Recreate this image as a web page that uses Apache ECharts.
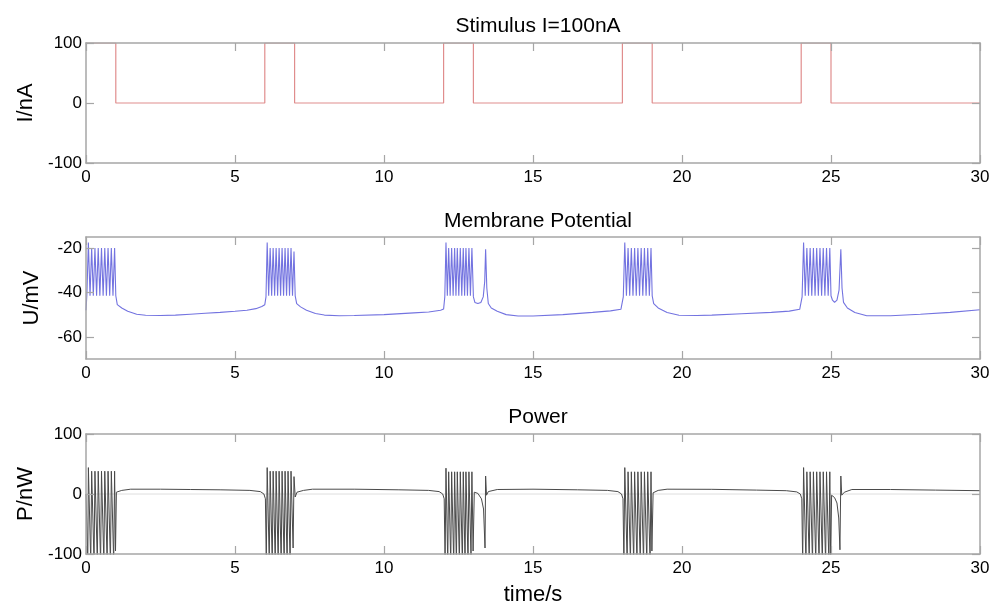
<!DOCTYPE html>
<html><head><meta charset="utf-8">
<script src="https://cdn.jsdelivr.net/npm/echarts@6/dist/echarts.min.js"></script>
<style>html,body{margin:0;padding:0;background:#fff}#c{width:1003px;height:608px}</style>
</head><body><div id="c"></div>
<script>
// ---------------- data ----------------
const titles = ['Stimulus I=100nA', 'Membrane Potential', 'Power'];
const yNames = ['I/nA', 'U/mV', 'P/nW'];
const xName = 'time/s';
const xRange = [0, 30];
const xStep = 5;
const yRangeStim = [-100, 100];
const yRangeU = [-70, -15];
const yRangeP = [-100, 100];
const yTicksStim = [-100, 0, 100];
const yTicksU = [-60, -40, -20];
const yTicksP = [-100, 0, 100];

// stimulus current (nA): [t, I]
const stimulus = [
  [0,100],[1,100],[1,0],[6,0],[6,100],[7,100],[7,0],[12,0],[12,100],[13,100],[13,0],
  [18,0],[18,100],[19,100],[19,0],[24,0],[24,100],[25,100],[25,0],[30,0]
];

// membrane potential (mV): [t, U]
const membrane = [
  [0,-48],[0.03,-41],[0.08,-17.5],[0.135,-41.5],[0.19,-20],[0.245,-41.5],[0.30,-20],[0.355,-41.5],[0.41,-20],
  [0.465,-41.5],[0.52,-20],[0.575,-41.5],[0.63,-20],[0.685,-41.5],[0.74,-20],[0.795,-41.5],[0.85,-20],
  [0.905,-41.5],[0.96,-20],[1.00,-41.5],[1.05,-45.5],[1.2,-47],[1.4,-48.5],[1.7,-49.8],[2.0,-50.3],
  [2.5,-50.4],[3.0,-50.2],[3.5,-49.8],[4.0,-49.4],[4.5,-49],[5.0,-48.5],[5.4,-48],[5.7,-47.3],[5.9,-46.3],
  [6.0,-45.5],[6.04,-42],
  [6.08,-17.5],[6.13,-41.5],[6.18,-20],[6.23,-41.5],[6.28,-20],[6.33,-41.5],[6.38,-20],[6.43,-41.5],[6.48,-20],
  [6.53,-41.5],[6.58,-20],[6.63,-41.5],[6.68,-20],[6.73,-41.5],[6.78,-20],[6.83,-41.5],[6.88,-20],[6.93,-41.5],
  [6.98,-21.5],[7.02,-41.5],[7.07,-45],[7.2,-46.5],[7.4,-48],[7.7,-49.5],[8.0,-50.2],[8.5,-50.5],[9.0,-50.4],
  [10.0,-50],[11.0,-49.2],[11.5,-48.8],[11.9,-48],[12.0,-47.5],[12.04,-42],
  [12.08,-17.5],[12.125,-41.5],[12.17,-20],[12.22,-41.5],[12.27,-20],[12.32,-41.5],[12.37,-20],[12.415,-41.5],
  [12.46,-20],[12.51,-41.5],[12.56,-20],[12.61,-41.5],[12.66,-20],[12.705,-41.5],[12.75,-20],[12.80,-41.5],
  [12.85,-20],[12.90,-41.5],[12.95,-20],[13.0,-42],[13.05,-44.5],[13.15,-45],[13.25,-44.5],[13.33,-42],
  [13.38,-35],[13.41,-20.5],[13.45,-38],[13.5,-45],[13.6,-47],[13.8,-48.5],[14.1,-50],[14.5,-50.6],
  [15.0,-50.6],[16.0,-50],[17.0,-49],[17.6,-48.3],[17.95,-47.6],[18.03,-42],
  [18.08,-17.5],[18.135,-41.5],[18.19,-20],[18.245,-41.5],[18.30,-20],[18.355,-41.5],[18.41,-20],[18.465,-41.5],
  [18.52,-20],[18.575,-41.5],[18.63,-20],[18.685,-41.5],[18.74,-20],[18.795,-41.5],[18.85,-20],[18.905,-41.5],
  [18.96,-20],[19.0,-41.5],[19.05,-45],[19.2,-47],[19.5,-49],[19.9,-50.3],[20.5,-50.4],[21.0,-50.2],
  [22.0,-49.6],[23.0,-49],[23.6,-48.4],[23.95,-47.6],[24.03,-42],
  [24.08,-17.5],[24.135,-41.5],[24.19,-20],[24.245,-41.5],[24.30,-20],[24.355,-41.5],[24.41,-20],[24.465,-41.5],
  [24.52,-20],[24.575,-41.5],[24.63,-20],[24.685,-41.5],[24.74,-20],[24.795,-41.5],[24.85,-20],[24.905,-41.5],
  [24.96,-20],[25.0,-41.5],[25.05,-43.5],[25.12,-44.5],[25.2,-43.5],[25.27,-39],[25.33,-20.5],[25.37,-38],
  [25.42,-44.5],[25.55,-47],[25.8,-49],[26.2,-50.5],[27.0,-50.5],[28.0,-49.8],[29.0,-49],[30.0,-47.8]
];

// power (nW): [t, P]
const power = [
  [0,0],[0.05,0],[0.06,-115],[0.08,44],[0.16,-115],[0.19,38],[0.27,-115],[0.30,38],[0.38,-115],[0.41,38],
  [0.49,-115],[0.52,38],[0.60,-115],[0.63,38],[0.71,-115],[0.74,38],[0.82,-115],[0.85,38],[0.93,-115],[0.96,38],
  [0.99,-95],[1.02,3],[1.2,6],[1.5,8],[2.5,8],[3.5,7.5],[4.5,7],[5.5,6],[5.85,4],[5.97,0],[6.02,-8],
  [6.05,-115],[6.08,44],[6.15,-115],[6.18,38],[6.25,-115],[6.28,38],[6.35,-115],[6.38,38],[6.45,-115],[6.48,38],
  [6.55,-115],[6.58,38],[6.65,-115],[6.68,38],[6.75,-115],[6.78,38],[6.85,-115],[6.88,38],[6.95,-90],[6.98,29],
  [7.02,-5],[7.08,3],[7.3,6],[7.6,8],[9.0,8],[10.5,7],[11.5,6],[11.85,4],[11.97,0],[12.02,-8],
  [12.05,-115],[12.08,43],[12.14,-115],[12.17,37],[12.24,-115],[12.27,37],[12.34,-115],[12.37,37],[12.43,-115],
  [12.46,37],[12.53,-115],[12.56,37],[12.63,-115],[12.66,37],[12.72,-115],[12.75,37],[12.82,-115],[12.85,37],
  [12.92,-105],[12.95,37],[12.99,-95],[13.03,3],[13.15,1],[13.27,-8],[13.34,-25],[13.39,-90],[13.41,30],
  [13.44,-2],[13.5,4],[13.8,7.5],[15.0,8],[16.5,7],[17.5,6],[17.85,4],[17.97,0],[18.02,-8],
  [18.05,-115],[18.08,44],[18.16,-115],[18.19,37],[18.27,-115],[18.30,37],[18.38,-115],[18.41,37],[18.49,-115],
  [18.52,37],[18.60,-115],[18.63,37],[18.71,-115],[18.74,37],[18.82,-115],[18.85,37],[18.93,-115],[18.96,37],
  [18.99,-95],[19.03,2],[19.2,6],[19.5,8],[21.0,7.8],[22.5,6.5],[23.5,5.5],[23.85,3.5],[23.97,0],[24.02,-8],
  [24.05,-115],[24.08,44],[24.16,-115],[24.19,37],[24.27,-115],[24.30,37],[24.38,-115],[24.41,37],[24.49,-115],
  [24.52,37],[24.60,-115],[24.63,37],[24.71,-115],[24.74,37],[24.82,-115],[24.85,37],[24.93,-115],[24.96,37],
  [24.99,-115],[25.02,-2],[25.12,-6],[25.2,-15],[25.26,-40],[25.30,-93],[25.33,30],[25.36,-2],[25.45,3],
  [25.7,7.5],[27.0,7.5],[28.5,6.5],[30.0,5.5]
];

// zero reference line in the power panel
const powerZero = [[0,0],[30,0]];

// ---------------- layout / style ----------------
const FONT = '"Liberation Sans", Arial, sans-serif';
const BORDER = '#a6a6a6';
const L = 86, R = 1003 - 980;
const grids = [
  { top: 43, height: 120 },
  { top: 237, height: 122 },
  { top: 434, height: 120 }
];
const yRanges = [yRangeStim, yRangeU, yRangeP];
const yTicks = [yTicksStim, yTicksU, yTicksP];
const titleTops = [11, 206, 402];

const chart = echarts.init(document.getElementById('c'), null, { renderer: 'canvas' });

const xAxes = [], yAxes = [];
grids.forEach((g, i) => {
  const common = {
    type: 'value', gridIndex: i, min: xRange[0], max: xRange[1], interval: xStep,
    axisLine: { show: true, onZero: false, lineStyle: { color: BORDER, width: 1.5 } },
    axisTick: { show: true, inside: true, length: 8, lineStyle: { color: BORDER, width: 1.2 } },
    splitLine: { show: false }, z: 5
  };
  xAxes.push(Object.assign({}, common, {
    position: 'bottom',
    axisLabel: { show: true, color: '#000', fontSize: 17, fontFamily: FONT, margin: 6 },
    name: i === 2 ? xName : '', nameLocation: 'middle', nameGap: 30,
    nameTextStyle: { fontSize: 22, color: '#000', fontFamily: FONT }
  }));
  xAxes.push(Object.assign({}, common, {
    position: 'top', axisLabel: { show: false }
  }));
  const yc = {
    type: 'value', gridIndex: i, min: yRanges[i][0], max: yRanges[i][1],
    axisLine: { show: true, onZero: false, lineStyle: { color: BORDER, width: 1.5 } },
    axisTick: { show: true, inside: true, length: 8, customValues: yTicks[i], lineStyle: { color: BORDER, width: 1.2 } },
    splitLine: { show: false }, z: 5
  };
  yAxes.push(Object.assign({}, yc, {
    position: 'left',
    axisLabel: { show: true, customValues: yTicks[i], color: '#000', fontSize: 17, fontFamily: FONT, margin: 4 },
    name: yNames[i], nameLocation: 'middle', nameRotate: 90, nameGap: 43,
    nameTextStyle: { fontSize: 22, color: '#000', fontFamily: FONT }
  }));
  yAxes.push(Object.assign({}, yc, { position: 'right', axisLabel: { show: false } }));
});

const option = {
  animation: false,
  backgroundColor: '#fff',
  title: titles.map((t, i) => ({
    text: t, left: (L + 980) / 2, top: titleTops[i], textAlign: 'center',
    textStyle: { fontSize: 21, fontWeight: 'normal', color: '#000', fontFamily: FONT }
  })),
  grid: grids.map(g => ({ left: L, right: R, top: g.top, height: g.height, outerBoundsMode: 'none', containLabel: false })),
  xAxis: xAxes,
  yAxis: yAxes,
  series: [
    { type: 'line', xAxisIndex: 0, yAxisIndex: 0, data: stimulus, showSymbol: false, symbol: 'none',
      lineStyle: { color: '#e08d8d', width: 1.2 }, clip: true, z: 2 },
    { type: 'line', xAxisIndex: 2, yAxisIndex: 2, data: membrane, showSymbol: false, symbol: 'none',
      lineStyle: { color: '#7373e0', width: 1.1 }, clip: true, z: 2 },
    { type: 'line', xAxisIndex: 4, yAxisIndex: 4, data: powerZero, showSymbol: false, symbol: 'none',
      lineStyle: { color: '#dedede', width: 1 }, clip: true, z: 1 },
    { type: 'line', xAxisIndex: 4, yAxisIndex: 4, data: power, showSymbol: false, symbol: 'none',
      lineStyle: { color: '#4a4a4a', width: 1 }, clip: true, z: 2 }
  ]
};
chart.setOption(option);
</script>
</body></html>
